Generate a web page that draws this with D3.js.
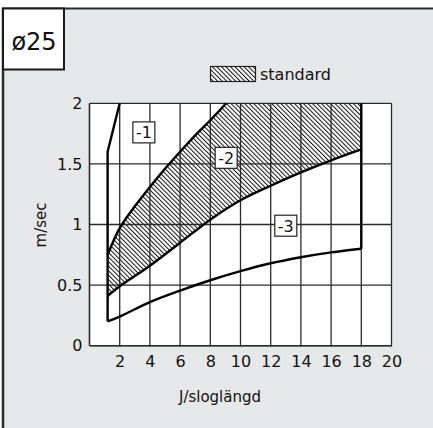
<!DOCTYPE html>
<html>
<head>
<meta charset="utf-8">
<script src="https://cdn.jsdelivr.net/npm/d3@7"></script>
<style>
  html, body { margin: 0; padding: 0; background: #ffffff; }
  svg { display: block; }
  text { font-family: "DejaVu Sans", sans-serif; fill: #111; }
</style>
</head>
<body>
<svg id="chart" width="433" height="428"></svg>
<script>
// ---- data ----
const title = "ø25";
const xTicks = [2, 4, 6, 8, 10, 12, 14, 16, 18, 20];
const yTicks = [0, 0.5, 1, 1.5, 2];
const yTickLabels = ["0", "0.5", "1", "1.5", "2"];
const xLabel = "J/sloglängd";
const yLabel = "m/sec";
const legendLabel = "standard";

// curve -1 : left limit (steep line)
const curve1X = [1.2, 1.2, 2.0];
const curve1Y = [0.2, 1.6, 2.0];
// upper limit of standard area
const upperX = [1.2, 2, 3, 4, 5, 6, 7, 8, 9.05];
const upperY = [0.75, 0.97, 1.15, 1.31, 1.46, 1.6, 1.735, 1.86, 2.0];
// curve -2 : lower limit of standard area
const lowerX = [1.2, 2, 4, 6, 8, 10, 12, 14, 16, 18];
const lowerY = [0.41, 0.49, 0.66, 0.85, 1.04, 1.2, 1.32, 1.43, 1.53, 1.62];
// curve -3 : bottom limit
const bottomX = [1.2, 2, 4, 6, 8, 10, 12, 14, 16, 18];
const bottomY = [0.2, 0.24, 0.36, 0.455, 0.54, 0.615, 0.68, 0.73, 0.77, 0.8];
// right limit
const rightX = [18, 18];
const rightY = [0.8, 2.0];
// area labels
const areaLabels = ["-1", "-2", "-3"];
const areaLabelX = [3.6, 9.05, 13.0];
const areaLabelY = [1.76, 1.55, 0.99];

// ---- drawing ----
const svg = d3.select("#chart");
const W = 433, H = 428;

const x = d3.scaleLinear().domain([0, 20]).range([89.5, 391.5]);
const y = d3.scaleLinear().domain([0, 2]).range([345.7, 103.3]);

// background frame
svg.append("rect").attr("x", 3).attr("y", 8.5).attr("width", W).attr("height", H)
  .attr("fill", "#e6e7e9");
svg.append("line").attr("x1", 2).attr("x2", W).attr("y1", 8.5).attr("y2", 8.5)
  .attr("stroke", "#2a2a2a").attr("stroke-width", 2);
svg.append("line").attr("x1", 3).attr("x2", 3).attr("y1", 8).attr("y2", H)
  .attr("stroke", "#2a2a2a").attr("stroke-width", 2.5);

// title box
svg.append("rect").attr("x", 3).attr("y", 8.5).attr("width", 61).attr("height", 61)
  .attr("fill", "#fff").attr("stroke", "#1a1a1a").attr("stroke-width", 2);
svg.append("text").attr("x", 34).attr("y", 50).attr("text-anchor", "middle")
  .style("font-size", "24px").text(title);

// hatch pattern
const defs = svg.append("defs");
const pat = defs.append("pattern").attr("id", "hatch")
  .attr("patternUnits", "userSpaceOnUse").attr("width", 3.2).attr("height", 3.2)
  .attr("patternTransform", "rotate(-45)");
pat.append("rect").attr("width", 3.2).attr("height", 3.2).attr("fill", "#fff");
pat.append("line").attr("x1", 0.5).attr("x2", 0.5).attr("y1", 0).attr("y2", 3.2)
  .attr("stroke", "#111").attr("stroke-width", 1);

// plot area
svg.append("rect").attr("x", x(0)).attr("y", y(2))
  .attr("width", x(20) - x(0)).attr("height", y(0) - y(2)).attr("fill", "#fff");

// hatched standard area
const upperPts = upperX.map((v, i) => [v, upperY[i]]);
const lowerPts = lowerX.map((v, i) => [v, lowerY[i]]);
const lineGen = d3.line().x(d => x(d[0])).y(d => y(d[1])).curve(d3.curveCatmullRom.alpha(0.5));
const upperPath = lineGen(upperPts);
const lowerRev = lineGen(lowerPts.slice().reverse());
const areaD = upperPath + "L" + x(rightX[1]) + "," + y(rightY[1]) +
  "L" + lowerRev.slice(1) + "Z";
svg.append("path").attr("d", areaD).attr("fill", "url(#hatch)").attr("stroke", "none");

// grid
const grid = svg.append("g").attr("stroke", "#2a2a2a").attr("stroke-width", 1.3);
xTicks.forEach(t => grid.append("line").attr("x1", x(t)).attr("x2", x(t))
  .attr("y1", y(2)).attr("y2", y(0) + 1));
yTicks.forEach(t => grid.append("line").attr("x1", x(0)).attr("x2", x(20))
  .attr("y1", y(t)).attr("y2", y(t)));
grid.append("line").attr("x1", x(0)).attr("x2", x(0)).attr("y1", y(2)).attr("y2", y(0))
  .attr("stroke-width", 1.6);
grid.append("line").attr("x1", x(0)).attr("x2", x(20)).attr("y1", y(0)).attr("y2", y(0))
  .attr("stroke-width", 1.6);

// axes (labels only)
const xAxis = d3.axisBottom(x).tickValues(xTicks).tickSize(0).tickPadding(10)
  .tickFormat(d3.format("d"));
const gx = svg.append("g").attr("transform", `translate(0,${y(0)})`).call(xAxis);
gx.select(".domain").remove();
gx.selectAll("text").style("font-size", "16px").style("font-family", "DejaVu Sans, sans-serif")
  .attr("fill", "#111");

const yAxis = d3.axisLeft(y).tickValues(yTicks).tickSize(0).tickPadding(7)
  .tickFormat((d, i) => yTickLabels[i]);
const gy = svg.append("g").attr("transform", `translate(${x(0)},0)`).call(yAxis);
gy.select(".domain").remove();
gy.selectAll("text").style("font-size", "16px").style("font-family", "DejaVu Sans, sans-serif")
  .attr("fill", "#111");

// curves
const curves = svg.append("g").attr("fill", "none").attr("stroke", "#000")
  .attr("stroke-width", 2.4).attr("stroke-linejoin", "round");
const straight = d3.line().x(d => x(d[0])).y(d => y(d[1]));
curves.append("path").attr("d", straight(curve1X.map((v, i) => [v, curve1Y[i]])));
curves.append("path").attr("d", upperPath);
curves.append("path").attr("d", lineGen(lowerPts));
curves.append("path").attr("d", lineGen(bottomX.map((v, i) => [v, bottomY[i]])));
curves.append("path").attr("d", straight(rightX.map((v, i) => [v, rightY[i]])));

// area labels
areaLabels.forEach((lab, i) => {
  const cx = x(areaLabelX[i]), cy = y(areaLabelY[i]);
  svg.append("rect").attr("x", cx - 11).attr("y", cy - 10.5).attr("width", 22).attr("height", 21)
    .attr("fill", "#fff").attr("stroke", "#222").attr("stroke-width", 1.2);
  svg.append("text").attr("x", cx).attr("y", cy + 6).attr("text-anchor", "middle")
    .style("font-size", "16px").text(lab);
});

// legend
svg.append("rect").attr("x", 210.5).attr("y", 66.5).attr("width", 45).attr("height", 15)
  .attr("fill", "url(#hatch)").attr("stroke", "#222").attr("stroke-width", 1.2);
svg.append("text").attr("x", 260).attr("y", 80).style("font-size", "16px").text(legendLabel);

// axis titles
svg.append("text").attr("x", 220).attr("y", 402).attr("text-anchor", "middle")
  .style("font-size", "15px").text(xLabel);
svg.append("text").attr("transform", "translate(46,225) rotate(-90)")
  .attr("text-anchor", "middle").style("font-size", "15px").text(yLabel);
</script>
</body>
</html>
